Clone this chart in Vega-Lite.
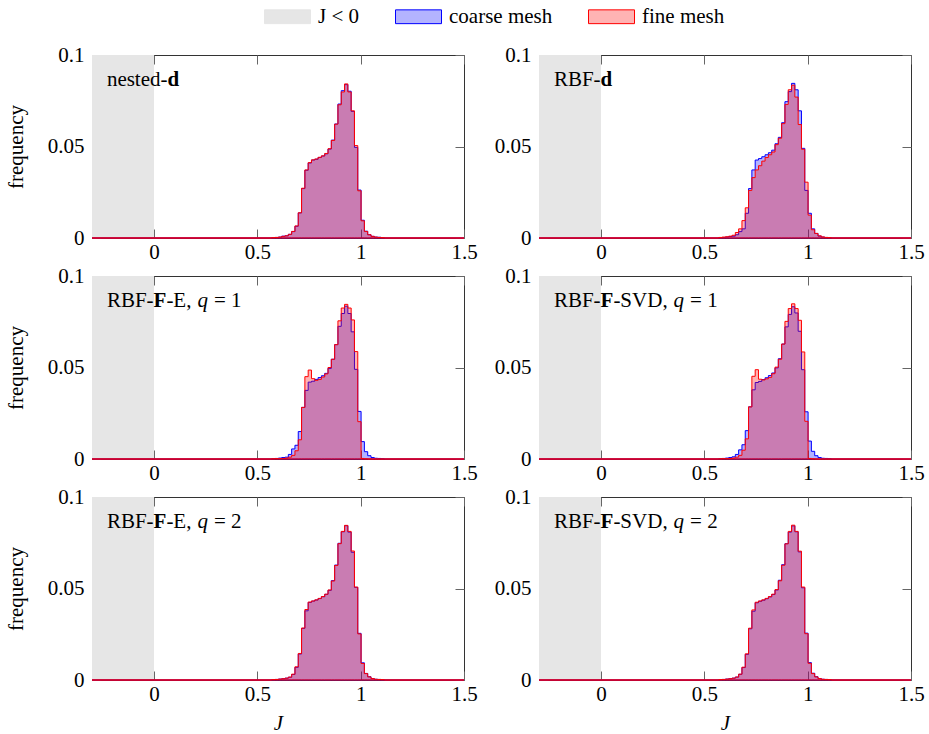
{
 "$schema": "https://vega.github.io/schema/vega-lite/v6.json",
 "padding": {"left": 4, "top": -7, "right": 5, "bottom": 5},
 "background": "white",
 "config": {
  "view": {"stroke": "#333", "strokeWidth": 1},
  "font": "Liberation Serif",
  "axis": {"domain": false, "grid": false, "ticks": true, "tickSize": -9, "tickColor": "#666", "tickWidth": 1, "labelFont": "Liberation Serif", "labelFontSize": 21, "labelColor": "#000", "labelFlush": false, "labelOverlap": false, "titleFont": "Liberation Serif", "titleFontSize": 21, "titleFontWeight": "normal", "titleColor": "#000"},
  "axisX": {"labelPadding": 12, "titlePadding": 8},
  "axisY": {"labelPadding": 17, "titlePadding": 21},
  "legend": {"orient": "none", "legendX": 172, "legendY": -62, "direction": "horizontal", "labelFont": "Liberation Serif", "labelFontSize": 21, "labelColor": "#000", "symbolType": "M-1,-0.3H1V0.3H-1Z", "symbolSize": 2116, "symbolStrokeWidth": 1, "columnPadding": 33, "labelOffset": 7, "padding": 0},
  "text": {"font": "Liberation Serif", "fontSize": 21, "color": "#000"}
 },
 "datasets": {
  "h": [
   {"p":"nd","J":-0.3,"c":0,"f":0},
   {"p":"nd","J":0.57,"c":0.0002,"f":0.0002},
   {"p":"nd","J":0.586,"c":0.0003,"f":0.0003},
   {"p":"nd","J":0.602,"c":0.0005,"f":0.0005},
   {"p":"nd","J":0.618,"c":0.001,"f":0.0009},
   {"p":"nd","J":0.634,"c":0.0012,"f":0.0012},
   {"p":"nd","J":0.65,"c":0.002,"f":0.002},
   {"p":"nd","J":0.666,"c":0.0035,"f":0.0036},
   {"p":"nd","J":0.682,"c":0.0064,"f":0.0066},
   {"p":"nd","J":0.698,"c":0.0137,"f":0.0138},
   {"p":"nd","J":0.714,"c":0.027,"f":0.0272},
   {"p":"nd","J":0.73,"c":0.037,"f":0.0372},
   {"p":"nd","J":0.746,"c":0.041,"f":0.0412},
   {"p":"nd","J":0.762,"c":0.0426,"f":0.0427},
   {"p":"nd","J":0.778,"c":0.043,"f":0.0432},
   {"p":"nd","J":0.794,"c":0.044,"f":0.0441},
   {"p":"nd","J":0.81,"c":0.0448,"f":0.0449},
   {"p":"nd","J":0.826,"c":0.046,"f":0.0462},
   {"p":"nd","J":0.842,"c":0.0486,"f":0.0488},
   {"p":"nd","J":0.858,"c":0.0535,"f":0.0533},
   {"p":"nd","J":0.874,"c":0.0623,"f":0.0622},
   {"p":"nd","J":0.89,"c":0.0732,"f":0.0728},
   {"p":"nd","J":0.906,"c":0.0805,"f":0.0798},
   {"p":"nd","J":0.922,"c":0.0838,"f":0.0842},
   {"p":"nd","J":0.938,"c":0.0802,"f":0.0798},
   {"p":"nd","J":0.954,"c":0.0692,"f":0.0695},
   {"p":"nd","J":0.97,"c":0.0495,"f":0.0505},
   {"p":"nd","J":0.986,"c":0.0262,"f":0.0258},
   {"p":"nd","J":1.002,"c":0.0097,"f":0.0094},
   {"p":"nd","J":1.018,"c":0.0037,"f":0.0036},
   {"p":"nd","J":1.034,"c":0.0018,"f":0.0018},
   {"p":"nd","J":1.05,"c":0.0009,"f":0.0009},
   {"p":"nd","J":1.066,"c":0.0005,"f":0.0005},
   {"p":"nd","J":1.082,"c":0.0004,"f":0.0003},
   {"p":"nd","J":1.098,"c":0.0002,"f":0.0002},
   {"p":"nd","J":1.114,"c":0,"f":0},
   {"p":"nd","J":1.5,"c":0,"f":0},

   {"p":"rd","J":-0.3,"c":0,"f":0},
   {"p":"rd","J":0.57,"c":0.0002,"f":0.0003},
   {"p":"rd","J":0.586,"c":0.0003,"f":0.0005},
   {"p":"rd","J":0.602,"c":0.0005,"f":0.0007},
   {"p":"rd","J":0.618,"c":0.0008,"f":0.001},
   {"p":"rd","J":0.634,"c":0.001,"f":0.0015},
   {"p":"rd","J":0.65,"c":0.0018,"f":0.003},
   {"p":"rd","J":0.666,"c":0.0035,"f":0.005},
   {"p":"rd","J":0.682,"c":0.005,"f":0.0095},
   {"p":"rd","J":0.698,"c":0.0135,"f":0.0165},
   {"p":"rd","J":0.714,"c":0.027,"f":0.026},
   {"p":"rd","J":0.73,"c":0.0372,"f":0.033},
   {"p":"rd","J":0.746,"c":0.0426,"f":0.0372},
   {"p":"rd","J":0.762,"c":0.0434,"f":0.0395},
   {"p":"rd","J":0.778,"c":0.0444,"f":0.042},
   {"p":"rd","J":0.794,"c":0.0455,"f":0.044},
   {"p":"rd","J":0.81,"c":0.0466,"f":0.0455},
   {"p":"rd","J":0.826,"c":0.048,"f":0.047},
   {"p":"rd","J":0.842,"c":0.0515,"f":0.051},
   {"p":"rd","J":0.858,"c":0.055,"f":0.0545},
   {"p":"rd","J":0.874,"c":0.063,"f":0.0625},
   {"p":"rd","J":0.89,"c":0.0745,"f":0.073},
   {"p":"rd","J":0.906,"c":0.08,"f":0.081},
   {"p":"rd","J":0.922,"c":0.0845,"f":0.0835},
   {"p":"rd","J":0.938,"c":0.081,"f":0.077},
   {"p":"rd","J":0.954,"c":0.0695,"f":0.062},
   {"p":"rd","J":0.97,"c":0.049,"f":0.0485},
   {"p":"rd","J":0.986,"c":0.026,"f":0.0305},
   {"p":"rd","J":1.002,"c":0.0135,"f":0.0125},
   {"p":"rd","J":1.018,"c":0.005,"f":0.0045},
   {"p":"rd","J":1.034,"c":0.0025,"f":0.0025},
   {"p":"rd","J":1.05,"c":0.001,"f":0.0012},
   {"p":"rd","J":1.066,"c":0.0005,"f":0.0006},
   {"p":"rd","J":1.082,"c":0.0003,"f":0.0003},
   {"p":"rd","J":1.098,"c":0.0002,"f":0.0002},
   {"p":"rd","J":1.114,"c":0,"f":0},
   {"p":"rd","J":1.5,"c":0,"f":0},

   {"p":"fe1","J":-0.3,"c":0,"f":0},
   {"p":"fe1","J":0.57,"c":0.0002,"f":0.0001},
   {"p":"fe1","J":0.586,"c":0.0003,"f":0.0002},
   {"p":"fe1","J":0.602,"c":0.0005,"f":0.0002},
   {"p":"fe1","J":0.618,"c":0.0008,"f":0.0003},
   {"p":"fe1","J":0.634,"c":0.001,"f":0.0005},
   {"p":"fe1","J":0.65,"c":0.0025,"f":0.001},
   {"p":"fe1","J":0.666,"c":0.0055,"f":0.002},
   {"p":"fe1","J":0.682,"c":0.0075,"f":0.0045},
   {"p":"fe1","J":0.698,"c":0.015,"f":0.0105},
   {"p":"fe1","J":0.714,"c":0.0282,"f":0.0282},
   {"p":"fe1","J":0.73,"c":0.0375,"f":0.045},
   {"p":"fe1","J":0.746,"c":0.042,"f":0.0486},
   {"p":"fe1","J":0.762,"c":0.0425,"f":0.0439},
   {"p":"fe1","J":0.778,"c":0.0435,"f":0.043},
   {"p":"fe1","J":0.794,"c":0.0445,"f":0.0435},
   {"p":"fe1","J":0.81,"c":0.0455,"f":0.0448},
   {"p":"fe1","J":0.826,"c":0.0468,"f":0.0465},
   {"p":"fe1","J":0.842,"c":0.0495,"f":0.05},
   {"p":"fe1","J":0.858,"c":0.0545,"f":0.0545},
   {"p":"fe1","J":0.874,"c":0.0625,"f":0.0625},
   {"p":"fe1","J":0.89,"c":0.0725,"f":0.0755},
   {"p":"fe1","J":0.906,"c":0.0795,"f":0.0825},
   {"p":"fe1","J":0.922,"c":0.0835,"f":0.0845},
   {"p":"fe1","J":0.938,"c":0.0795,"f":0.0825},
   {"p":"fe1","J":0.954,"c":0.0695,"f":0.076},
   {"p":"fe1","J":0.97,"c":0.049,"f":0.0587},
   {"p":"fe1","J":0.986,"c":0.026,"f":0.0204},
   {"p":"fe1","J":1.002,"c":0.0095,"f":0.0003},
   {"p":"fe1","J":1.018,"c":0.004,"f":0.0001},
   {"p":"fe1","J":1.034,"c":0.0018,"f":0},
   {"p":"fe1","J":1.05,"c":0.0008,"f":0},
   {"p":"fe1","J":1.066,"c":0.0004,"f":0},
   {"p":"fe1","J":1.082,"c":0.0003,"f":0},
   {"p":"fe1","J":1.098,"c":0.0002,"f":0},
   {"p":"fe1","J":1.114,"c":0,"f":0},
   {"p":"fe1","J":1.5,"c":0,"f":0},

   {"p":"fs1","J":-0.3,"c":0,"f":0},
   {"p":"fs1","J":0.57,"c":0.0002,"f":0.0001},
   {"p":"fs1","J":0.586,"c":0.0003,"f":0.0002},
   {"p":"fs1","J":0.602,"c":0.0005,"f":0.0002},
   {"p":"fs1","J":0.618,"c":0.0008,"f":0.0003},
   {"p":"fs1","J":0.634,"c":0.0012,"f":0.0005},
   {"p":"fs1","J":0.65,"c":0.0025,"f":0.001},
   {"p":"fs1","J":0.666,"c":0.005,"f":0.002},
   {"p":"fs1","J":0.682,"c":0.0078,"f":0.0048},
   {"p":"fs1","J":0.698,"c":0.0155,"f":0.011},
   {"p":"fs1","J":0.714,"c":0.0285,"f":0.0285},
   {"p":"fs1","J":0.73,"c":0.0378,"f":0.0452},
   {"p":"fs1","J":0.746,"c":0.0418,"f":0.0488},
   {"p":"fs1","J":0.762,"c":0.0424,"f":0.0436},
   {"p":"fs1","J":0.778,"c":0.0434,"f":0.0432},
   {"p":"fs1","J":0.794,"c":0.0444,"f":0.0438},
   {"p":"fs1","J":0.81,"c":0.0456,"f":0.0446},
   {"p":"fs1","J":0.826,"c":0.047,"f":0.0466},
   {"p":"fs1","J":0.842,"c":0.0498,"f":0.0502},
   {"p":"fs1","J":0.858,"c":0.0548,"f":0.0545},
   {"p":"fs1","J":0.874,"c":0.0628,"f":0.0628},
   {"p":"fs1","J":0.89,"c":0.0722,"f":0.0752},
   {"p":"fs1","J":0.906,"c":0.079,"f":0.0822},
   {"p":"fs1","J":0.922,"c":0.0832,"f":0.0848},
   {"p":"fs1","J":0.938,"c":0.0798,"f":0.0822},
   {"p":"fs1","J":0.954,"c":0.0698,"f":0.0758},
   {"p":"fs1","J":0.97,"c":0.0488,"f":0.0585},
   {"p":"fs1","J":0.986,"c":0.0258,"f":0.0206},
   {"p":"fs1","J":1.002,"c":0.0098,"f":0.0003},
   {"p":"fs1","J":1.018,"c":0.0042,"f":0.0001},
   {"p":"fs1","J":1.034,"c":0.0018,"f":0},
   {"p":"fs1","J":1.05,"c":0.0008,"f":0},
   {"p":"fs1","J":1.066,"c":0.0004,"f":0},
   {"p":"fs1","J":1.082,"c":0.0003,"f":0},
   {"p":"fs1","J":1.098,"c":0.0002,"f":0},
   {"p":"fs1","J":1.114,"c":0,"f":0},
   {"p":"fs1","J":1.5,"c":0,"f":0},

   {"p":"fe2","J":-0.3,"c":0,"f":0},
   {"p":"fe2","J":0.57,"c":0.0002,"f":0.0002},
   {"p":"fe2","J":0.586,"c":0.0003,"f":0.0003},
   {"p":"fe2","J":0.602,"c":0.0005,"f":0.0005},
   {"p":"fe2","J":0.618,"c":0.0007,"f":0.0007},
   {"p":"fe2","J":0.634,"c":0.001,"f":0.001},
   {"p":"fe2","J":0.65,"c":0.0015,"f":0.0016},
   {"p":"fe2","J":0.666,"c":0.003,"f":0.0032},
   {"p":"fe2","J":0.682,"c":0.0069,"f":0.0072},
   {"p":"fe2","J":0.698,"c":0.0142,"f":0.0145},
   {"p":"fe2","J":0.714,"c":0.0282,"f":0.0284},
   {"p":"fe2","J":0.73,"c":0.0378,"f":0.0385},
   {"p":"fe2","J":0.746,"c":0.0424,"f":0.0426},
   {"p":"fe2","J":0.762,"c":0.0431,"f":0.0432},
   {"p":"fe2","J":0.778,"c":0.0437,"f":0.0438},
   {"p":"fe2","J":0.794,"c":0.0445,"f":0.0446},
   {"p":"fe2","J":0.81,"c":0.0455,"f":0.0456},
   {"p":"fe2","J":0.826,"c":0.0468,"f":0.0469},
   {"p":"fe2","J":0.842,"c":0.049,"f":0.0492},
   {"p":"fe2","J":0.858,"c":0.0543,"f":0.0541},
   {"p":"fe2","J":0.874,"c":0.0628,"f":0.0626},
   {"p":"fe2","J":0.89,"c":0.0747,"f":0.0745},
   {"p":"fe2","J":0.906,"c":0.081,"f":0.0812},
   {"p":"fe2","J":0.922,"c":0.0843,"f":0.0845},
   {"p":"fe2","J":0.938,"c":0.0808,"f":0.0812},
   {"p":"fe2","J":0.954,"c":0.0698,"f":0.0705},
   {"p":"fe2","J":0.97,"c":0.0506,"f":0.0508},
   {"p":"fe2","J":0.986,"c":0.0255,"f":0.0252},
   {"p":"fe2","J":1.002,"c":0.0094,"f":0.009},
   {"p":"fe2","J":1.018,"c":0.0036,"f":0.0035},
   {"p":"fe2","J":1.034,"c":0.0018,"f":0.0017},
   {"p":"fe2","J":1.05,"c":0.0008,"f":0.0008},
   {"p":"fe2","J":1.066,"c":0.0004,"f":0.0004},
   {"p":"fe2","J":1.082,"c":0.0003,"f":0.0003},
   {"p":"fe2","J":1.098,"c":0.0002,"f":0.0002},
   {"p":"fe2","J":1.114,"c":0,"f":0},
   {"p":"fe2","J":1.5,"c":0,"f":0},

   {"p":"fs2","J":-0.3,"c":0,"f":0},
   {"p":"fs2","J":0.57,"c":0.0002,"f":0.0002},
   {"p":"fs2","J":0.586,"c":0.0003,"f":0.0003},
   {"p":"fs2","J":0.602,"c":0.0005,"f":0.0005},
   {"p":"fs2","J":0.618,"c":0.0007,"f":0.0007},
   {"p":"fs2","J":0.634,"c":0.001,"f":0.001},
   {"p":"fs2","J":0.65,"c":0.0016,"f":0.0016},
   {"p":"fs2","J":0.666,"c":0.0031,"f":0.0032},
   {"p":"fs2","J":0.682,"c":0.0068,"f":0.007},
   {"p":"fs2","J":0.698,"c":0.014,"f":0.0143},
   {"p":"fs2","J":0.714,"c":0.028,"f":0.0283},
   {"p":"fs2","J":0.73,"c":0.0376,"f":0.0383},
   {"p":"fs2","J":0.746,"c":0.0422,"f":0.0425},
   {"p":"fs2","J":0.762,"c":0.043,"f":0.0432},
   {"p":"fs2","J":0.778,"c":0.0436,"f":0.0438},
   {"p":"fs2","J":0.794,"c":0.0444,"f":0.0446},
   {"p":"fs2","J":0.81,"c":0.0454,"f":0.0456},
   {"p":"fs2","J":0.826,"c":0.0467,"f":0.0469},
   {"p":"fs2","J":0.842,"c":0.0492,"f":0.0494},
   {"p":"fs2","J":0.858,"c":0.0545,"f":0.0542},
   {"p":"fs2","J":0.874,"c":0.063,"f":0.0627},
   {"p":"fs2","J":0.89,"c":0.0745,"f":0.0744},
   {"p":"fs2","J":0.906,"c":0.0808,"f":0.0812},
   {"p":"fs2","J":0.922,"c":0.0842,"f":0.0846},
   {"p":"fs2","J":0.938,"c":0.081,"f":0.0812},
   {"p":"fs2","J":0.954,"c":0.07,"f":0.0704},
   {"p":"fs2","J":0.97,"c":0.0504,"f":0.0508},
   {"p":"fs2","J":0.986,"c":0.0256,"f":0.0253},
   {"p":"fs2","J":1.002,"c":0.0095,"f":0.0091},
   {"p":"fs2","J":1.018,"c":0.0037,"f":0.0035},
   {"p":"fs2","J":1.034,"c":0.0018,"f":0.0017},
   {"p":"fs2","J":1.05,"c":0.0008,"f":0.0008},
   {"p":"fs2","J":1.066,"c":0.0004,"f":0.0004},
   {"p":"fs2","J":1.082,"c":0.0003,"f":0.0003},
   {"p":"fs2","J":1.098,"c":0.0002,"f":0.0002},
   {"p":"fs2","J":1.114,"c":0,"f":0},
   {"p":"fs2","J":1.5,"c":0,"f":0}
  ]
 },
 "spacing": 1,
 "vconcat": [
  {"spacing": 75, "bounds": "flush", "hconcat": [
   {"width": 372, "height": 183, "resolve": {"axis": {"x": "independent", "y": "independent"}},
    "layer": [
     {"data": {"values": [{"a": -0.3, "b": 0, "lo": 0, "hi": 0.1, "s": "J < 0"}]},
      "mark": {"type": "rect", "strokeWidth": 0},
      "encoding": {
       "x": {"field": "a", "type": "quantitative", "scale": {"domain": [-0.3, 1.5], "nice": false, "zero": false}, "axis": {"orient": "bottom", "values": [0, 0.5, 1, 1.5], "format": "~g", "title": null}},
       "x2": {"field": "b"},
       "y": {"field": "lo", "type": "quantitative", "scale": {"domain": [0, 0.1], "nice": false, "zero": false}, "axis": {"orient": "left", "values": [0, 0.05, 0.1], "format": "~g", "title": "frequency"}},
       "y2": {"field": "hi"},
       "fill": {"field": "s", "type": "nominal", "scale": {"domain": ["J < 0", "coarse mesh", "fine mesh"], "range": ["#e6e6e6", "#b3b3ff", "#ffb3b3"]}, "legend": {"title": null}},
       "stroke": {"field": "s", "type": "nominal", "scale": {"domain": ["J < 0", "coarse mesh", "fine mesh"], "range": ["#e6e6e6", "#0000ff", "#ff0000"]}, "legend": {"title": null}}
      }},
     {"data": {"name": "h"}, "transform": [{"filter": "datum.p == 'nd'"}],
      "mark": {"type": "area", "interpolate": "step-after", "fill": "#0000ff", "fillOpacity": 0.3, "stroke": "#0000ff", "strokeWidth": 1},
      "encoding": {"x": {"field": "J", "type": "quantitative", "axis": {"orient": "top", "values": [0, 0.5, 1, 1.5], "labels": false, "title": null}}, "y": {"field": "c", "type": "quantitative", "axis": {"orient": "right", "values": [0, 0.05, 0.1], "labels": false, "title": null}}}},
     {"data": {"name": "h"}, "transform": [{"filter": "datum.p == 'nd'"}],
      "mark": {"type": "area", "interpolate": "step-after", "fill": "#ff0000", "fillOpacity": 0.3, "stroke": "#ff0000", "strokeWidth": 1},
      "encoding": {"x": {"field": "J", "type": "quantitative", "axis": null}, "y": {"field": "f", "type": "quantitative", "axis": null}}},
     {"data": {"values": [{}]}, "mark": {"type": "text", "align": "left", "baseline": "alphabetic", "text": "nested-"},
      "encoding": {"x": {"datum": -0.228, "type": "quantitative", "axis": null}, "y": {"datum": 0.083, "type": "quantitative", "axis": null}}},
     {"data": {"values": [{}]}, "mark": {"type": "text", "align": "left", "baseline": "alphabetic", "text": "d", "fontWeight": "bold", "dx": 60.6},
      "encoding": {"x": {"datum": -0.228, "type": "quantitative", "axis": null}, "y": {"datum": 0.083, "type": "quantitative", "axis": null}}}
    ]},
   {"width": 372, "height": 183, "resolve": {"axis": {"x": "independent", "y": "independent"}},
    "layer": [
     {"data": {"values": [{"a": -0.3, "b": 0, "lo": 0, "hi": 0.1}]},
      "mark": {"type": "rect", "color": "#e6e6e6", "strokeWidth": 0},
      "encoding": {
       "x": {"field": "a", "type": "quantitative", "scale": {"domain": [-0.3, 1.5], "nice": false, "zero": false}, "axis": {"orient": "bottom", "values": [0, 0.5, 1, 1.5], "format": "~g", "title": null}},
       "x2": {"field": "b"},
       "y": {"field": "lo", "type": "quantitative", "scale": {"domain": [0, 0.1], "nice": false, "zero": false}, "axis": {"orient": "left", "values": [0, 0.05, 0.1], "format": "~g", "title": null}},
       "y2": {"field": "hi"}
      }},
     {"data": {"name": "h"}, "transform": [{"filter": "datum.p == 'rd'"}],
      "mark": {"type": "area", "interpolate": "step-after", "fill": "#0000ff", "fillOpacity": 0.3, "stroke": "#0000ff", "strokeWidth": 1},
      "encoding": {"x": {"field": "J", "type": "quantitative", "axis": {"orient": "top", "values": [0, 0.5, 1, 1.5], "labels": false, "title": null}}, "y": {"field": "c", "type": "quantitative", "axis": {"orient": "right", "values": [0, 0.05, 0.1], "labels": false, "title": null}}}},
     {"data": {"name": "h"}, "transform": [{"filter": "datum.p == 'rd'"}],
      "mark": {"type": "area", "interpolate": "step-after", "fill": "#ff0000", "fillOpacity": 0.3, "stroke": "#ff0000", "strokeWidth": 1},
      "encoding": {"x": {"field": "J", "type": "quantitative", "axis": null}, "y": {"field": "f", "type": "quantitative", "axis": null}}},
     {"data": {"values": [{}]}, "mark": {"type": "text", "align": "left", "baseline": "alphabetic", "text": "RBF-"},
      "encoding": {"x": {"datum": -0.228, "type": "quantitative", "axis": null}, "y": {"datum": 0.083, "type": "quantitative", "axis": null}}},
     {"data": {"values": [{}]}, "mark": {"type": "text", "align": "left", "baseline": "alphabetic", "text": "d", "fontWeight": "bold", "dx": 46.7},
      "encoding": {"x": {"datum": -0.228, "type": "quantitative", "axis": null}, "y": {"datum": 0.083, "type": "quantitative", "axis": null}}}
    ]}
  ]},
  {"spacing": 75, "bounds": "flush", "hconcat": [
   {"width": 372, "height": 183, "resolve": {"axis": {"x": "independent", "y": "independent"}},
    "layer": [
     {"data": {"values": [{"a": -0.3, "b": 0, "lo": 0, "hi": 0.1}]},
      "mark": {"type": "rect", "color": "#e6e6e6", "strokeWidth": 0},
      "encoding": {
       "x": {"field": "a", "type": "quantitative", "scale": {"domain": [-0.3, 1.5], "nice": false, "zero": false}, "axis": {"orient": "bottom", "values": [0, 0.5, 1, 1.5], "format": "~g", "title": null}},
       "x2": {"field": "b"},
       "y": {"field": "lo", "type": "quantitative", "scale": {"domain": [0, 0.1], "nice": false, "zero": false}, "axis": {"orient": "left", "values": [0, 0.05, 0.1], "format": "~g", "title": "frequency"}},
       "y2": {"field": "hi"}
      }},
     {"data": {"name": "h"}, "transform": [{"filter": "datum.p == 'fe1'"}],
      "mark": {"type": "area", "interpolate": "step-after", "fill": "#0000ff", "fillOpacity": 0.3, "stroke": "#0000ff", "strokeWidth": 1},
      "encoding": {"x": {"field": "J", "type": "quantitative", "axis": {"orient": "top", "values": [0, 0.5, 1, 1.5], "labels": false, "title": null}}, "y": {"field": "c", "type": "quantitative", "axis": {"orient": "right", "values": [0, 0.05, 0.1], "labels": false, "title": null}}}},
     {"data": {"name": "h"}, "transform": [{"filter": "datum.p == 'fe1'"}],
      "mark": {"type": "area", "interpolate": "step-after", "fill": "#ff0000", "fillOpacity": 0.3, "stroke": "#ff0000", "strokeWidth": 1},
      "encoding": {"x": {"field": "J", "type": "quantitative", "axis": null}, "y": {"field": "f", "type": "quantitative", "axis": null}}},
     {"data": {"values": [{}]}, "mark": {"type": "text", "align": "left", "baseline": "alphabetic", "text": "RBF-"},
      "encoding": {"x": {"datum": -0.228, "type": "quantitative", "axis": null}, "y": {"datum": 0.083, "type": "quantitative", "axis": null}}},
     {"data": {"values": [{}]}, "mark": {"type": "text", "align": "left", "baseline": "alphabetic", "text": "F", "fontWeight": "bold", "dx": 46.7},
      "encoding": {"x": {"datum": -0.228, "type": "quantitative", "axis": null}, "y": {"datum": 0.083, "type": "quantitative", "axis": null}}},
     {"data": {"values": [{}]}, "mark": {"type": "text", "align": "left", "baseline": "alphabetic", "text": "-E,", "dx": 59.5},
      "encoding": {"x": {"datum": -0.228, "type": "quantitative", "axis": null}, "y": {"datum": 0.083, "type": "quantitative", "axis": null}}},
     {"data": {"values": [{}]}, "mark": {"type": "text", "align": "left", "baseline": "alphabetic", "text": "q", "fontStyle": "italic", "dx": 90.5},
      "encoding": {"x": {"datum": -0.228, "type": "quantitative", "axis": null}, "y": {"datum": 0.083, "type": "quantitative", "axis": null}}},
     {"data": {"values": [{}]}, "mark": {"type": "text", "align": "left", "baseline": "alphabetic", "text": "= 1", "dx": 107},
      "encoding": {"x": {"datum": -0.228, "type": "quantitative", "axis": null}, "y": {"datum": 0.083, "type": "quantitative", "axis": null}}}
    ]},
   {"width": 372, "height": 183, "resolve": {"axis": {"x": "independent", "y": "independent"}},
    "layer": [
     {"data": {"values": [{"a": -0.3, "b": 0, "lo": 0, "hi": 0.1}]},
      "mark": {"type": "rect", "color": "#e6e6e6", "strokeWidth": 0},
      "encoding": {
       "x": {"field": "a", "type": "quantitative", "scale": {"domain": [-0.3, 1.5], "nice": false, "zero": false}, "axis": {"orient": "bottom", "values": [0, 0.5, 1, 1.5], "format": "~g", "title": null}},
       "x2": {"field": "b"},
       "y": {"field": "lo", "type": "quantitative", "scale": {"domain": [0, 0.1], "nice": false, "zero": false}, "axis": {"orient": "left", "values": [0, 0.05, 0.1], "format": "~g", "title": null}},
       "y2": {"field": "hi"}
      }},
     {"data": {"name": "h"}, "transform": [{"filter": "datum.p == 'fs1'"}],
      "mark": {"type": "area", "interpolate": "step-after", "fill": "#0000ff", "fillOpacity": 0.3, "stroke": "#0000ff", "strokeWidth": 1},
      "encoding": {"x": {"field": "J", "type": "quantitative", "axis": {"orient": "top", "values": [0, 0.5, 1, 1.5], "labels": false, "title": null}}, "y": {"field": "c", "type": "quantitative", "axis": {"orient": "right", "values": [0, 0.05, 0.1], "labels": false, "title": null}}}},
     {"data": {"name": "h"}, "transform": [{"filter": "datum.p == 'fs1'"}],
      "mark": {"type": "area", "interpolate": "step-after", "fill": "#ff0000", "fillOpacity": 0.3, "stroke": "#ff0000", "strokeWidth": 1},
      "encoding": {"x": {"field": "J", "type": "quantitative", "axis": null}, "y": {"field": "f", "type": "quantitative", "axis": null}}},
     {"data": {"values": [{}]}, "mark": {"type": "text", "align": "left", "baseline": "alphabetic", "text": "RBF-"},
      "encoding": {"x": {"datum": -0.228, "type": "quantitative", "axis": null}, "y": {"datum": 0.083, "type": "quantitative", "axis": null}}},
     {"data": {"values": [{}]}, "mark": {"type": "text", "align": "left", "baseline": "alphabetic", "text": "F", "fontWeight": "bold", "dx": 46.7},
      "encoding": {"x": {"datum": -0.228, "type": "quantitative", "axis": null}, "y": {"datum": 0.083, "type": "quantitative", "axis": null}}},
     {"data": {"values": [{}]}, "mark": {"type": "text", "align": "left", "baseline": "alphabetic", "text": "-SVD,", "dx": 59.5},
      "encoding": {"x": {"datum": -0.228, "type": "quantitative", "axis": null}, "y": {"datum": 0.083, "type": "quantitative", "axis": null}}},
     {"data": {"values": [{}]}, "mark": {"type": "text", "align": "left", "baseline": "alphabetic", "text": "q", "fontStyle": "italic", "dx": 119.7},
      "encoding": {"x": {"datum": -0.228, "type": "quantitative", "axis": null}, "y": {"datum": 0.083, "type": "quantitative", "axis": null}}},
     {"data": {"values": [{}]}, "mark": {"type": "text", "align": "left", "baseline": "alphabetic", "text": "= 1", "dx": 136.2},
      "encoding": {"x": {"datum": -0.228, "type": "quantitative", "axis": null}, "y": {"datum": 0.083, "type": "quantitative", "axis": null}}}
    ]}
  ]},
  {"spacing": 75, "bounds": "flush", "hconcat": [
   {"width": 372, "height": 183, "resolve": {"axis": {"x": "independent", "y": "independent"}},
    "layer": [
     {"data": {"values": [{"a": -0.3, "b": 0, "lo": 0, "hi": 0.1}]},
      "mark": {"type": "rect", "color": "#e6e6e6", "strokeWidth": 0},
      "encoding": {
       "x": {"field": "a", "type": "quantitative", "scale": {"domain": [-0.3, 1.5], "nice": false, "zero": false}, "axis": {"orient": "bottom", "values": [0, 0.5, 1, 1.5], "format": "~g", "title": "J", "titleFontStyle": "italic"}},
       "x2": {"field": "b"},
       "y": {"field": "lo", "type": "quantitative", "scale": {"domain": [0, 0.1], "nice": false, "zero": false}, "axis": {"orient": "left", "values": [0, 0.05, 0.1], "format": "~g", "title": "frequency"}},
       "y2": {"field": "hi"}
      }},
     {"data": {"name": "h"}, "transform": [{"filter": "datum.p == 'fe2'"}],
      "mark": {"type": "area", "interpolate": "step-after", "fill": "#0000ff", "fillOpacity": 0.3, "stroke": "#0000ff", "strokeWidth": 1},
      "encoding": {"x": {"field": "J", "type": "quantitative", "axis": {"orient": "top", "values": [0, 0.5, 1, 1.5], "labels": false, "title": null}}, "y": {"field": "c", "type": "quantitative", "axis": {"orient": "right", "values": [0, 0.05, 0.1], "labels": false, "title": null}}}},
     {"data": {"name": "h"}, "transform": [{"filter": "datum.p == 'fe2'"}],
      "mark": {"type": "area", "interpolate": "step-after", "fill": "#ff0000", "fillOpacity": 0.3, "stroke": "#ff0000", "strokeWidth": 1},
      "encoding": {"x": {"field": "J", "type": "quantitative", "axis": null}, "y": {"field": "f", "type": "quantitative", "axis": null}}},
     {"data": {"values": [{}]}, "mark": {"type": "text", "align": "left", "baseline": "alphabetic", "text": "RBF-"},
      "encoding": {"x": {"datum": -0.228, "type": "quantitative", "axis": null}, "y": {"datum": 0.083, "type": "quantitative", "axis": null}}},
     {"data": {"values": [{}]}, "mark": {"type": "text", "align": "left", "baseline": "alphabetic", "text": "F", "fontWeight": "bold", "dx": 46.7},
      "encoding": {"x": {"datum": -0.228, "type": "quantitative", "axis": null}, "y": {"datum": 0.083, "type": "quantitative", "axis": null}}},
     {"data": {"values": [{}]}, "mark": {"type": "text", "align": "left", "baseline": "alphabetic", "text": "-E,", "dx": 59.5},
      "encoding": {"x": {"datum": -0.228, "type": "quantitative", "axis": null}, "y": {"datum": 0.083, "type": "quantitative", "axis": null}}},
     {"data": {"values": [{}]}, "mark": {"type": "text", "align": "left", "baseline": "alphabetic", "text": "q", "fontStyle": "italic", "dx": 90.5},
      "encoding": {"x": {"datum": -0.228, "type": "quantitative", "axis": null}, "y": {"datum": 0.083, "type": "quantitative", "axis": null}}},
     {"data": {"values": [{}]}, "mark": {"type": "text", "align": "left", "baseline": "alphabetic", "text": "= 2", "dx": 107},
      "encoding": {"x": {"datum": -0.228, "type": "quantitative", "axis": null}, "y": {"datum": 0.083, "type": "quantitative", "axis": null}}}
    ]},
   {"width": 372, "height": 183, "resolve": {"axis": {"x": "independent", "y": "independent"}},
    "layer": [
     {"data": {"values": [{"a": -0.3, "b": 0, "lo": 0, "hi": 0.1}]},
      "mark": {"type": "rect", "color": "#e6e6e6", "strokeWidth": 0},
      "encoding": {
       "x": {"field": "a", "type": "quantitative", "scale": {"domain": [-0.3, 1.5], "nice": false, "zero": false}, "axis": {"orient": "bottom", "values": [0, 0.5, 1, 1.5], "format": "~g", "title": "J", "titleFontStyle": "italic"}},
       "x2": {"field": "b"},
       "y": {"field": "lo", "type": "quantitative", "scale": {"domain": [0, 0.1], "nice": false, "zero": false}, "axis": {"orient": "left", "values": [0, 0.05, 0.1], "format": "~g", "title": null}},
       "y2": {"field": "hi"}
      }},
     {"data": {"name": "h"}, "transform": [{"filter": "datum.p == 'fs2'"}],
      "mark": {"type": "area", "interpolate": "step-after", "fill": "#0000ff", "fillOpacity": 0.3, "stroke": "#0000ff", "strokeWidth": 1},
      "encoding": {"x": {"field": "J", "type": "quantitative", "axis": {"orient": "top", "values": [0, 0.5, 1, 1.5], "labels": false, "title": null}}, "y": {"field": "c", "type": "quantitative", "axis": {"orient": "right", "values": [0, 0.05, 0.1], "labels": false, "title": null}}}},
     {"data": {"name": "h"}, "transform": [{"filter": "datum.p == 'fs2'"}],
      "mark": {"type": "area", "interpolate": "step-after", "fill": "#ff0000", "fillOpacity": 0.3, "stroke": "#ff0000", "strokeWidth": 1},
      "encoding": {"x": {"field": "J", "type": "quantitative", "axis": null}, "y": {"field": "f", "type": "quantitative", "axis": null}}},
     {"data": {"values": [{}]}, "mark": {"type": "text", "align": "left", "baseline": "alphabetic", "text": "RBF-"},
      "encoding": {"x": {"datum": -0.228, "type": "quantitative", "axis": null}, "y": {"datum": 0.083, "type": "quantitative", "axis": null}}},
     {"data": {"values": [{}]}, "mark": {"type": "text", "align": "left", "baseline": "alphabetic", "text": "F", "fontWeight": "bold", "dx": 46.7},
      "encoding": {"x": {"datum": -0.228, "type": "quantitative", "axis": null}, "y": {"datum": 0.083, "type": "quantitative", "axis": null}}},
     {"data": {"values": [{}]}, "mark": {"type": "text", "align": "left", "baseline": "alphabetic", "text": "-SVD,", "dx": 59.5},
      "encoding": {"x": {"datum": -0.228, "type": "quantitative", "axis": null}, "y": {"datum": 0.083, "type": "quantitative", "axis": null}}},
     {"data": {"values": [{}]}, "mark": {"type": "text", "align": "left", "baseline": "alphabetic", "text": "q", "fontStyle": "italic", "dx": 119.7},
      "encoding": {"x": {"datum": -0.228, "type": "quantitative", "axis": null}, "y": {"datum": 0.083, "type": "quantitative", "axis": null}}},
     {"data": {"values": [{}]}, "mark": {"type": "text", "align": "left", "baseline": "alphabetic", "text": "= 2", "dx": 136.2},
      "encoding": {"x": {"datum": -0.228, "type": "quantitative", "axis": null}, "y": {"datum": 0.083, "type": "quantitative", "axis": null}}}
    ]}
  ]}
 ]
}
